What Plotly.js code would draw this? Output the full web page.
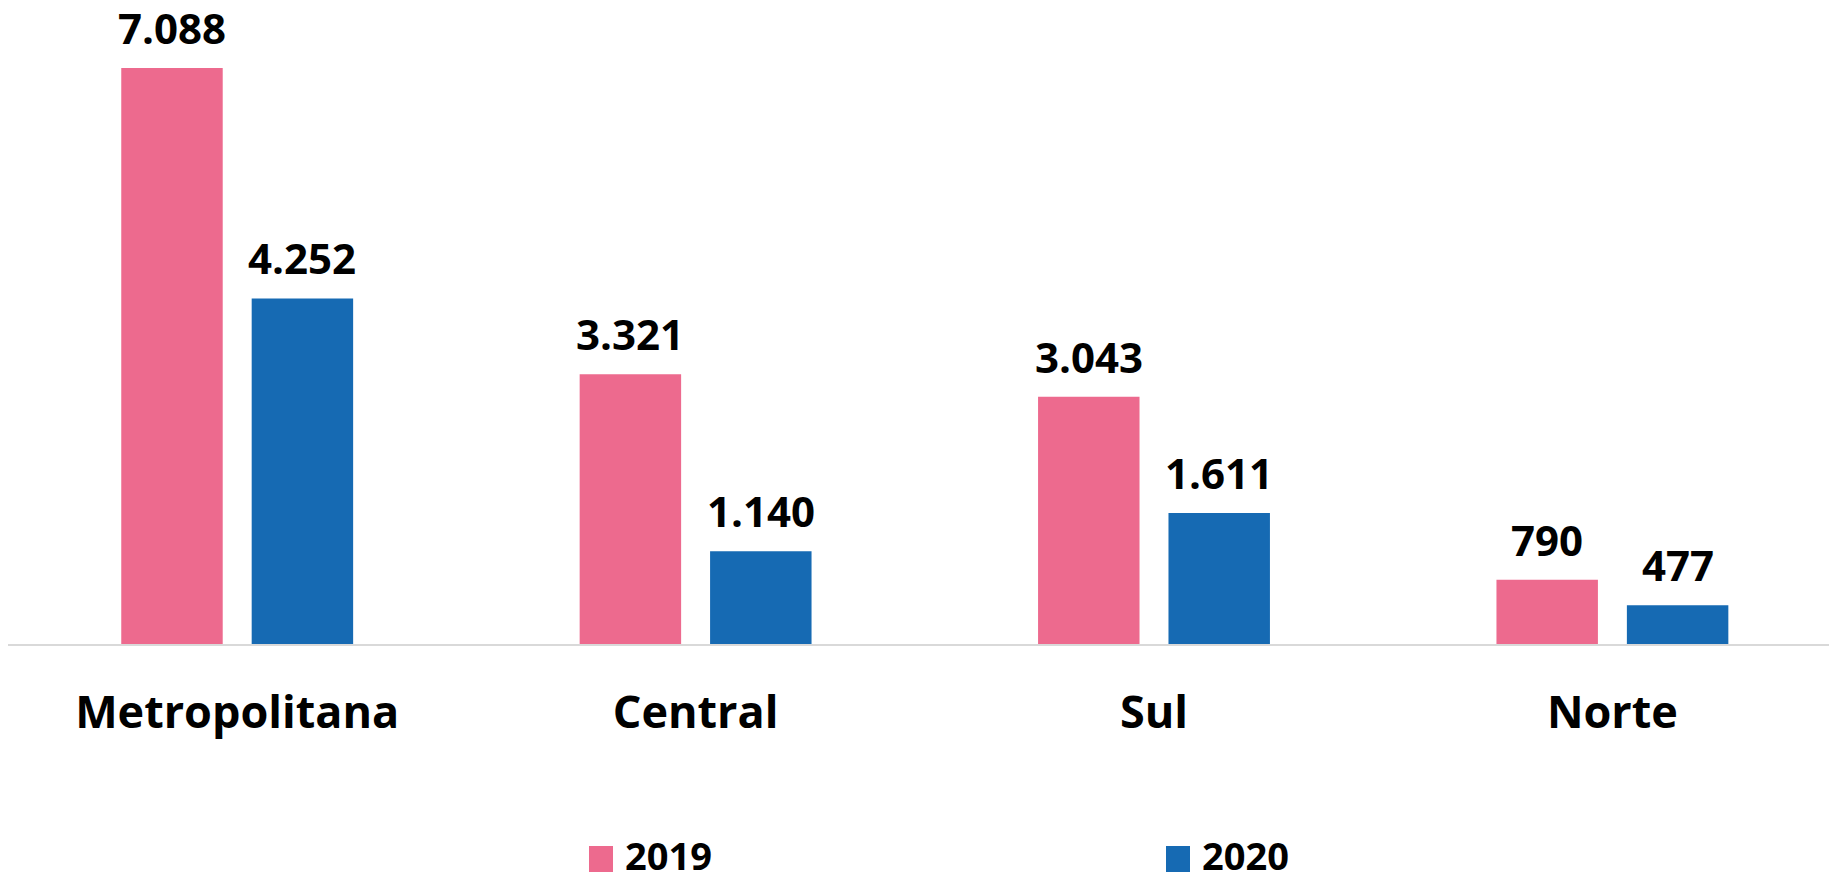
<!DOCTYPE html>
<html><head><meta charset="utf-8">
<script src="https://cdn.plot.ly/plotly-3.0.1.min.js"></script>
<style>html,body{margin:0;padding:0;background:#fff;overflow:hidden}</style>
</head><body><div id="chart" style="width:1829px;height:872px"></div>
<script>
const categories = ['Metropolitana', 'Central', 'Sul', 'Norte'];
const seriesNames = ['2019', '2020'];
const values2019 = [7088, 3321, 3043, 790];
const values2020 = [4252, 1140, 1611, 477];
const seriesValues = [values2019, values2020];
const seriesColors = ['#ED6A8E', '#166AB3'];

const FONT = 'Open Sans, Noto Sans, DejaVu Sans, sans-serif';
const W = 1829, H = 872;
const margin = {l: 8, r: 0, t: 0, b: 228, autoexpand: false};
const bargap = 0.431, bargroupgap = 0.222;
const catPx = 458.4;
const plotW = W - margin.l - margin.r;
const plotH = H - margin.t - margin.b;

function fmt(v) { return String(v).replace(/\B(?=(\d{3})+(?!\d))/g, '.'); }

const traces = seriesNames.map((name, i) => ({
  type: 'bar', name: name, x: categories, y: seriesValues[i],
  marker: {color: seriesColors[i]}, showlegend: false, hoverinfo: 'skip'
}));

const off = (1 - bargap) / 4;
const annotations = [];
seriesNames.forEach((name, i) => {
  seriesValues[i].forEach((v, j) => {
    annotations.push({
      x: j + (i === 0 ? -off : off), y: v, xref: 'x', yref: 'y',
      text: fmt(v), showarrow: false, yanchor: 'bottom', yshift: 10,
      font: {family: FONT, size: 42, color: '#000', weight: 700}
    });
  });
});

// legend (drawn manually to match the large swatches)
const px = X => (X - margin.l) / plotW;
const py = Y => (margin.t + plotH - Y) / plotH;
const legendX = [589, 1166];
const shapes = [];
seriesNames.forEach((name, i) => {
  shapes.push({type: 'rect', xref: 'paper', yref: 'paper',
    x0: px(legendX[i]), x1: px(legendX[i] + 24), y0: py(872), y1: py(846),
    fillcolor: seriesColors[i], line: {width: 0}});
  annotations.push({xref: 'paper', yref: 'paper', x: px(legendX[i] + 34), y: py(855),
    xanchor: 'left', yanchor: 'middle', showarrow: false, text: name,
    font: {family: FONT, size: 38, color: '#000', weight: 700}});
});

const layout = {
  width: W, height: H, margin: margin,
  paper_bgcolor: '#fff', plot_bgcolor: '#fff',
  barmode: 'group', bargap: bargap, bargroupgap: bargroupgap,
  showlegend: false,
  font: {family: FONT, color: '#000'},
  xaxis: {
    type: 'category', range: [-0.5, -0.5 + plotW / catPx],
    showline: true, linecolor: '#d9d9d9', linewidth: 2,
    ticks: '', showgrid: false, zeroline: false,
    tickfont: {family: FONT, size: 45, color: '#000', weight: 700},
    ticklabelstandoff: 28
  },
  yaxis: {range: [0, 7925], visible: false, showgrid: false, zeroline: false},
  annotations: annotations, shapes: shapes
};

Plotly.newPlot('chart', traces, layout, {displayModeBar: false, staticPlot: true});
</script>
</body></html>
